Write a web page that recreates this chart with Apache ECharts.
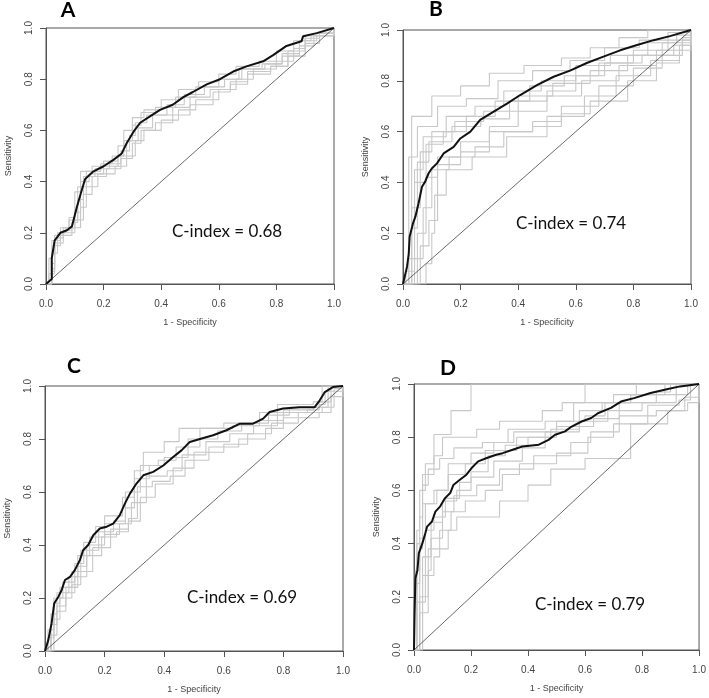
<!DOCTYPE html>
<html><head><meta charset="utf-8">
<script src="https://cdn.jsdelivr.net/npm/echarts@6/dist/echarts.min.js"></script>
<style>html,body{margin:0;padding:0;background:#fff}#c{width:709px;height:698px}</style>
</head><body><div id="c"></div>
<script>
// ---------- DATA ----------
const tickValues = [0, 0.2, 0.4, 0.6, 0.8, 1.0];
const panelLetters = ["A", "B", "C", "D"];
const cIndexLabels = ["C-index = 0.68", "C-index = 0.74", "C-index = 0.69", "C-index = 0.79"];
const xAxisTitle = "1 - Specificity";
const yAxisTitle = "Sensitivity";
const diagonal = [[0, 0], [1, 1]];

const blackA = [[0,0],[0.02,0.02],[0.02,0.10],[0.03,0.17],[0.05,0.20],[0.073,0.21],[0.09,0.225],[0.107,0.30],[0.125,0.37],[0.136,0.41],[0.165,0.44],[0.2,0.46],[0.234,0.485],[0.263,0.51],[0.28,0.55],[0.304,0.595],[0.327,0.63],[0.361,0.655],[0.396,0.68],[0.44,0.70],[0.477,0.73],[0.51,0.75],[0.558,0.78],[0.604,0.80],[0.65,0.83],[0.696,0.85],[0.754,0.87],[0.79,0.895],[0.835,0.93],[0.887,0.948],[0.893,0.968],[0.94,0.98],[1,1]];
const grayA1 = [[0,0],[0.02,0.08],[0.03,0.18],[0.06,0.21],[0.09,0.24],[0.11,0.33],[0.13,0.42],[0.17,0.45],[0.22,0.47],[0.26,0.52],[0.29,0.58],[0.31,0.63],[0.35,0.66],[0.42,0.7],[0.48,0.74],[0.55,0.77],[0.62,0.8],[0.68,0.84],[0.76,0.86],[0.82,0.9],[0.88,0.95],[0.92,0.97],[1,1]];
const grayA2 = [[0,0],[0.02,0.05],[0.03,0.15],[0.05,0.19],[0.09,0.22],[0.12,0.3],[0.14,0.38],[0.18,0.43],[0.24,0.46],[0.28,0.5],[0.31,0.56],[0.34,0.6],[0.4,0.64],[0.46,0.68],[0.52,0.72],[0.6,0.76],[0.66,0.8],[0.72,0.84],[0.8,0.87],[0.86,0.92],[0.9,0.96],[0.95,0.98],[1,1]];
const grayA3 = [[0,0],[0.01,0.1],[0.02,0.17],[0.05,0.22],[0.08,0.26],[0.1,0.36],[0.12,0.44],[0.16,0.46],[0.2,0.48],[0.25,0.54],[0.27,0.6],[0.3,0.65],[0.34,0.68],[0.4,0.72],[0.46,0.76],[0.53,0.79],[0.6,0.82],[0.66,0.85],[0.74,0.87],[0.8,0.91],[0.86,0.95],[0.9,0.97],[1,1]];
const grayA4 = [[0,0],[0.02,0.12],[0.04,0.2],[0.07,0.22],[0.1,0.28],[0.12,0.4],[0.15,0.43],[0.2,0.46],[0.25,0.5],[0.28,0.56],[0.32,0.61],[0.37,0.66],[0.44,0.69],[0.5,0.73],[0.57,0.76],[0.64,0.79],[0.7,0.83],[0.78,0.85],[0.84,0.91],[0.9,0.95],[0.94,0.98],[1,1]];
const grayA5 = [[0,0],[0.02,0.06],[0.03,0.16],[0.06,0.2],[0.1,0.25],[0.13,0.35],[0.16,0.42],[0.21,0.45],[0.26,0.49],[0.3,0.55],[0.33,0.6],[0.38,0.63],[0.44,0.66],[0.5,0.7],[0.58,0.75],[0.64,0.78],[0.7,0.82],[0.78,0.85],[0.84,0.89],[0.9,0.94],[0.95,0.97],[1,1]];
const grayA6 = [[0,0],[0.01,0.04],[0.03,0.19],[0.06,0.22],[0.08,0.25],[0.11,0.38],[0.14,0.44],[0.19,0.47],[0.23,0.5],[0.27,0.56],[0.3,0.62],[0.33,0.67],[0.38,0.69],[0.45,0.73],[0.52,0.77],[0.6,0.8],[0.67,0.84],[0.75,0.86],[0.82,0.89],[0.88,0.93],[0.93,0.97],[1,1]];

const blackB = [[0,0],[0.014,0.068],[0.02,0.12],[0.023,0.186],[0.035,0.24],[0.043,0.265],[0.054,0.318],[0.066,0.383],[0.077,0.403],[0.089,0.436],[0.10,0.455],[0.118,0.475],[0.141,0.514],[0.176,0.54],[0.199,0.573],[0.234,0.60],[0.268,0.646],[0.315,0.679],[0.361,0.71],[0.407,0.744],[0.465,0.783],[0.523,0.816],[0.58,0.84],[0.638,0.87],[0.696,0.895],[0.754,0.92],[0.81,0.94],[0.87,0.96],[0.927,0.976],[1,1]];
const grayB1 = [[0,0],[0.03,0.66],[0.10,0.74],[0.2,0.78],[0.3,0.83],[0.42,0.86],[0.55,0.89],[0.65,0.93],[0.75,0.97],[0.85,1],[1,1]];
const grayB2 = [[0,0],[0.02,0.5],[0.05,0.62],[0.12,0.7],[0.22,0.73],[0.33,0.8],[0.45,0.84],[0.58,0.88],[0.7,0.93],[0.82,0.96],[0.92,0.99],[1,1]];
const grayB3 = [[0,0],[0.04,0.45],[0.07,0.58],[0.15,0.66],[0.25,0.7],[0.35,0.76],[0.48,0.8],[0.6,0.86],[0.72,0.9],[0.85,0.95],[0.95,0.98],[1,1]];
const grayB4 = [[0,0],[0.03,0.3],[0.06,0.52],[0.1,0.6],[0.18,0.64],[0.28,0.68],[0.4,0.74],[0.52,0.79],[0.65,0.84],[0.78,0.9],[0.9,0.95],[1,1]];
const grayB5 = [[0,0],[0.05,0.2],[0.08,0.42],[0.12,0.5],[0.2,0.56],[0.3,0.62],[0.4,0.68],[0.5,0.74],[0.62,0.8],[0.75,0.86],[0.88,0.92],[0.97,0.97],[1,1]];
const grayB6 = [[0,0],[0.02,0.1],[0.07,0.3],[0.1,0.45],[0.16,0.5],[0.25,0.54],[0.35,0.6],[0.45,0.64],[0.55,0.7],[0.68,0.78],[0.8,0.85],[0.9,0.9],[0.97,0.96],[1,1]];
const grayB7 = [[0,0],[0.06,0.15],[0.09,0.25],[0.12,0.47],[0.2,0.52],[0.3,0.6],[0.45,0.62],[0.55,0.67],[0.65,0.72],[0.78,0.8],[0.88,0.87],[0.96,0.94],[1,1]];
const grayB8 = [[0,0],[0.01,0.05],[0.04,0.4],[0.08,0.55],[0.14,0.6],[0.22,0.66],[0.32,0.72],[0.44,0.78],[0.56,0.82],[0.68,0.87],[0.8,0.92],[0.92,0.96],[1,1]];
const grayB9 = [[0,0],[0.03,0.22],[0.05,0.48],[0.09,0.56],[0.17,0.62],[0.27,0.65],[0.37,0.72],[0.5,0.76],[0.6,0.82],[0.7,0.87],[0.83,0.9],[0.94,0.94],[1,1]];
const grayB10 = [[0,0],[0.08,0.08],[0.1,0.2],[0.11,0.35],[0.15,0.45],[0.24,0.5],[0.36,0.58],[0.5,0.66],[0.63,0.74],[0.74,0.82],[0.86,0.88],[0.96,0.92],[1,1]];

const blackC = [[0,0],[0.011,0.041],[0.022,0.104],[0.031,0.18],[0.045,0.205],[0.056,0.23],[0.067,0.268],[0.084,0.28],[0.10,0.305],[0.117,0.343],[0.128,0.38],[0.145,0.40],[0.162,0.437],[0.184,0.462],[0.207,0.469],[0.229,0.481],[0.251,0.513],[0.268,0.556],[0.285,0.594],[0.307,0.632],[0.33,0.663],[0.363,0.676],[0.397,0.70],[0.43,0.732],[0.458,0.757],[0.486,0.789],[0.52,0.80],[0.564,0.814],[0.609,0.833],[0.654,0.858],[0.698,0.858],[0.732,0.877],[0.754,0.902],[0.799,0.915],[0.855,0.92],[0.905,0.92],[0.922,0.946],[0.939,0.977],[0.966,0.996],[1,1]];
const grayC1 = [[0,0],[0.01,0.05],[0.03,0.2],[0.06,0.26],[0.1,0.33],[0.13,0.41],[0.17,0.47],[0.2,0.51],[0.26,0.58],[0.3,0.68],[0.33,0.75],[0.4,0.79],[0.45,0.84],[0.6,0.86],[0.72,0.9],[0.78,0.93],[0.9,0.94],[0.93,1],[1,1]];
const grayC2 = [[0,0],[0.02,0.1],[0.04,0.17],[0.07,0.22],[0.1,0.28],[0.14,0.36],[0.19,0.43],[0.24,0.45],[0.28,0.5],[0.31,0.62],[0.36,0.64],[0.42,0.66],[0.47,0.72],[0.55,0.77],[0.65,0.8],[0.74,0.84],[0.8,0.88],[0.92,0.9],[0.96,0.96],[1,1]];
const grayC3 = [[0,0],[0.02,0.14],[0.04,0.22],[0.08,0.28],[0.11,0.36],[0.15,0.43],[0.2,0.48],[0.27,0.54],[0.3,0.65],[0.35,0.7],[0.4,0.73],[0.48,0.8],[0.58,0.83],[0.66,0.86],[0.75,0.89],[0.82,0.92],[0.92,0.93],[0.94,0.98],[1,1]];
const grayC4 = [[0,0],[0.03,0.12],[0.05,0.2],[0.09,0.25],[0.12,0.3],[0.16,0.39],[0.22,0.46],[0.28,0.49],[0.32,0.58],[0.37,0.63],[0.43,0.69],[0.5,0.75],[0.6,0.78],[0.68,0.82],[0.76,0.86],[0.85,0.9],[0.93,0.92],[0.95,1],[1,1]];
const grayC5 = [[0,0],[0.01,0.08],[0.03,0.18],[0.05,0.24],[0.09,0.3],[0.12,0.38],[0.18,0.45],[0.23,0.49],[0.27,0.6],[0.32,0.7],[0.38,0.72],[0.44,0.77],[0.52,0.84],[0.63,0.85],[0.72,0.87],[0.8,0.91],[0.9,0.92],[0.97,0.99],[1,1]];
const grayC6 = [[0,0],[0.02,0.06],[0.04,0.15],[0.07,0.24],[0.11,0.32],[0.14,0.4],[0.2,0.44],[0.25,0.48],[0.29,0.56],[0.34,0.66],[0.41,0.68],[0.46,0.74],[0.54,0.79],[0.62,0.82],[0.7,0.85],[0.78,0.9],[0.88,0.91],[0.92,0.94],[0.96,1],[1,1]];

const blackD = [[0,0],[0.002,0.138],[0.005,0.27],[0.012,0.30],[0.017,0.364],[0.029,0.40],[0.04,0.44],[0.046,0.464],[0.063,0.483],[0.075,0.52],[0.092,0.54],[0.109,0.571],[0.127,0.59],[0.138,0.62],[0.161,0.64],[0.184,0.659],[0.202,0.684],[0.225,0.709],[0.253,0.721],[0.288,0.734],[0.311,0.74],[0.346,0.753],[0.38,0.765],[0.438,0.772],[0.472,0.79],[0.495,0.809],[0.53,0.822],[0.553,0.84],[0.588,0.859],[0.622,0.872],[0.645,0.89],[0.691,0.91],[0.726,0.934],[0.772,0.947],[0.83,0.966],[0.887,0.98],[0.933,0.991],[1,1]];
const grayD1 = [[0,0],[0.01,0.4],[0.03,0.66],[0.07,0.81],[0.13,0.9],[0.2,1],[1,1]];
const grayD2 = [[0,0],[0.01,0.45],[0.02,0.6],[0.04,0.7],[0.07,0.73],[0.1,0.8],[0.22,0.83],[0.3,0.86],[0.45,0.9],[0.52,0.93],[0.6,1],[1,1]];
const grayD3 = [[0,0],[0.005,0.3],[0.02,0.5],[0.03,0.62],[0.05,0.68],[0.09,0.72],[0.14,0.76],[0.24,0.78],[0.33,0.83],[0.46,0.86],[0.56,0.93],[0.7,0.96],[0.78,1],[1,1]];
const grayD4 = [[0,0],[0.01,0.25],[0.02,0.42],[0.04,0.55],[0.08,0.6],[0.12,0.66],[0.18,0.7],[0.25,0.75],[0.36,0.8],[0.5,0.84],[0.63,0.87],[0.72,0.93],[0.85,0.97],[0.9,1],[1,1]];
const grayD5 = [[0,0],[0.02,0.14],[0.03,0.35],[0.06,0.48],[0.1,0.56],[0.15,0.6],[0.2,0.65],[0.28,0.71],[0.38,0.76],[0.46,0.82],[0.58,0.86],[0.68,0.9],[0.8,0.93],[0.92,0.96],[0.96,1],[1,1]];
const grayD6 = [[0,0],[0.02,0.2],[0.05,0.3],[0.06,0.42],[0.1,0.52],[0.14,0.58],[0.22,0.62],[0.3,0.68],[0.42,0.73],[0.55,0.78],[0.62,0.82],[0.72,0.88],[0.85,0.9],[0.95,0.95],[1,1]];
const grayD7 = [[0,0],[0.03,0.28],[0.07,0.35],[0.09,0.45],[0.13,0.52],[0.18,0.56],[0.25,0.6],[0.31,0.66],[0.37,0.7],[0.5,0.74],[0.61,0.8],[0.7,0.85],[0.82,0.92],[0.93,0.94],[0.97,1],[1,1]];
const grayD8 = [[0,0],[0.03,0.14],[0.05,0.38],[0.12,0.45],[0.15,0.5],[0.3,0.56],[0.4,0.62],[0.48,0.68],[0.6,0.72],[0.76,0.85],[0.89,0.9],[0.96,0.93],[1,1]];
const grayD9 = [[0,0],[0.01,0.18],[0.04,0.45],[0.07,0.5],[0.11,0.57],[0.16,0.63],[0.2,0.67],[0.26,0.73],[0.32,0.77],[0.4,0.8],[0.48,0.83],[0.58,0.9],[0.66,0.93],[0.76,0.96],[0.88,1],[1,1]];
const grayD10 = [[0,0],[0.02,0.38],[0.03,0.55],[0.07,0.6],[0.12,0.7],[0.2,0.74],[0.28,0.78],[0.35,0.82],[0.5,0.86],[0.6,0.88],[0.67,0.93],[0.76,0.96],[0.92,1],[1,1]];

const panels = [
  { black: blackA, grays: [grayA1, grayA2, grayA3, grayA4, grayA5, grayA6] },
  { black: blackB, grays: [grayB1, grayB2, grayB3, grayB4, grayB5, grayB6, grayB7, grayB8, grayB9, grayB10] },
  { black: blackC, grays: [grayC1, grayC2, grayC3, grayC4, grayC5, grayC6] },
  { black: blackD, grays: [grayD1, grayD2, grayD3, grayD4, grayD5, grayD6, grayD7, grayD8, grayD9, grayD10] }
];

// ---------- LAYOUT ----------
const grids = [
  { left: 46, top: 28, width: 288, height: 256 },
  { left: 403, top: 30, width: 288, height: 254 },
  { left: 45, top: 386, width: 298, height: 265 },
  { left: 414, top: 384, width: 289, height: 266 }
];
const letterPos = [[68, 10], [436, 9], [74, 366], [448, 368]];
const cIndexPos = [[227, 232], [571, 224], [242, 598], [590, 605]];

const tickFont = { fontFamily: 'Liberation Sans', fontSize: 10, color: '#444' };
const option = {
  animation: false,
  backgroundColor: '#fff',
  grid: grids.map(g => Object.assign({ show: true, borderColor: '#555', borderWidth: 1, backgroundColor: 'transparent' }, g)),
  xAxis: grids.map((g, i) => ({
    gridIndex: i, type: 'value', min: 0, max: 1, interval: 0.2,
    axisLine: { show: true, lineStyle: { color: '#555', width: 1 } },
    axisTick: { show: true, inside: false, length: 6, lineStyle: { color: '#555' } },
    splitLine: { show: false },
    axisLabel: Object.assign({ margin: 15, formatter: v => v.toFixed(1), showMinLabel: true, showMaxLabel: true }, tickFont),
    name: xAxisTitle, nameLocation: 'middle', nameGap: 34,
    nameTextStyle: { fontFamily: 'Liberation Sans', fontSize: 9, color: '#444' }
  })),
  yAxis: grids.map((g, i) => ({
    gridIndex: i, type: 'value', min: 0, max: 1, interval: 0.2,
    axisLine: { show: true, lineStyle: { color: '#555', width: 1 } },
    axisTick: { show: true, inside: false, length: 6, lineStyle: { color: '#555' } },
    splitLine: { show: false },
    axisLabel: Object.assign({ margin: 12, rotate: 90, formatter: v => v.toFixed(1), showMinLabel: true, showMaxLabel: true }, tickFont),
    name: yAxisTitle, nameLocation: 'middle', nameGap: 33, nameRotate: 90,
    nameTextStyle: { fontFamily: 'Liberation Sans', fontSize: 9, color: '#444' }
  })),
  graphic: [],
  series: []
};

panels.forEach((p, i) => {
  p.grays.forEach(g => option.series.push({
    type: 'line', xAxisIndex: i, yAxisIndex: i, data: g, step: 'end',
    showSymbol: false, silent: true,
    lineStyle: { color: '#c8c8c8', width: 1.1 }
  }));
  option.series.push({
    type: 'line', xAxisIndex: i, yAxisIndex: i, data: diagonal,
    showSymbol: false, silent: true, lineStyle: { color: '#444', width: 0.8 }
  });
  option.series.push({
    type: 'line', xAxisIndex: i, yAxisIndex: i, data: p.black,
    showSymbol: false, silent: true, lineStyle: { color: '#111', width: 2 }
  });
  option.graphic.push({
    type: 'text', x: letterPos[i][0], y: letterPos[i][1],
    style: { text: panelLetters[i], font: 'bold 21px Lato', fill: '#000', align: 'center', verticalAlign: 'middle' }
  });
  option.graphic.push({
    type: 'text', x: cIndexPos[i][0], y: cIndexPos[i][1],
    style: { text: cIndexLabels[i], font: '17px Lato', fill: '#111', align: 'center', verticalAlign: 'middle' }
  });
});

const chart = echarts.init(document.getElementById('c'), null, { renderer: 'canvas' });
chart.setOption(option);
</script></body></html>
